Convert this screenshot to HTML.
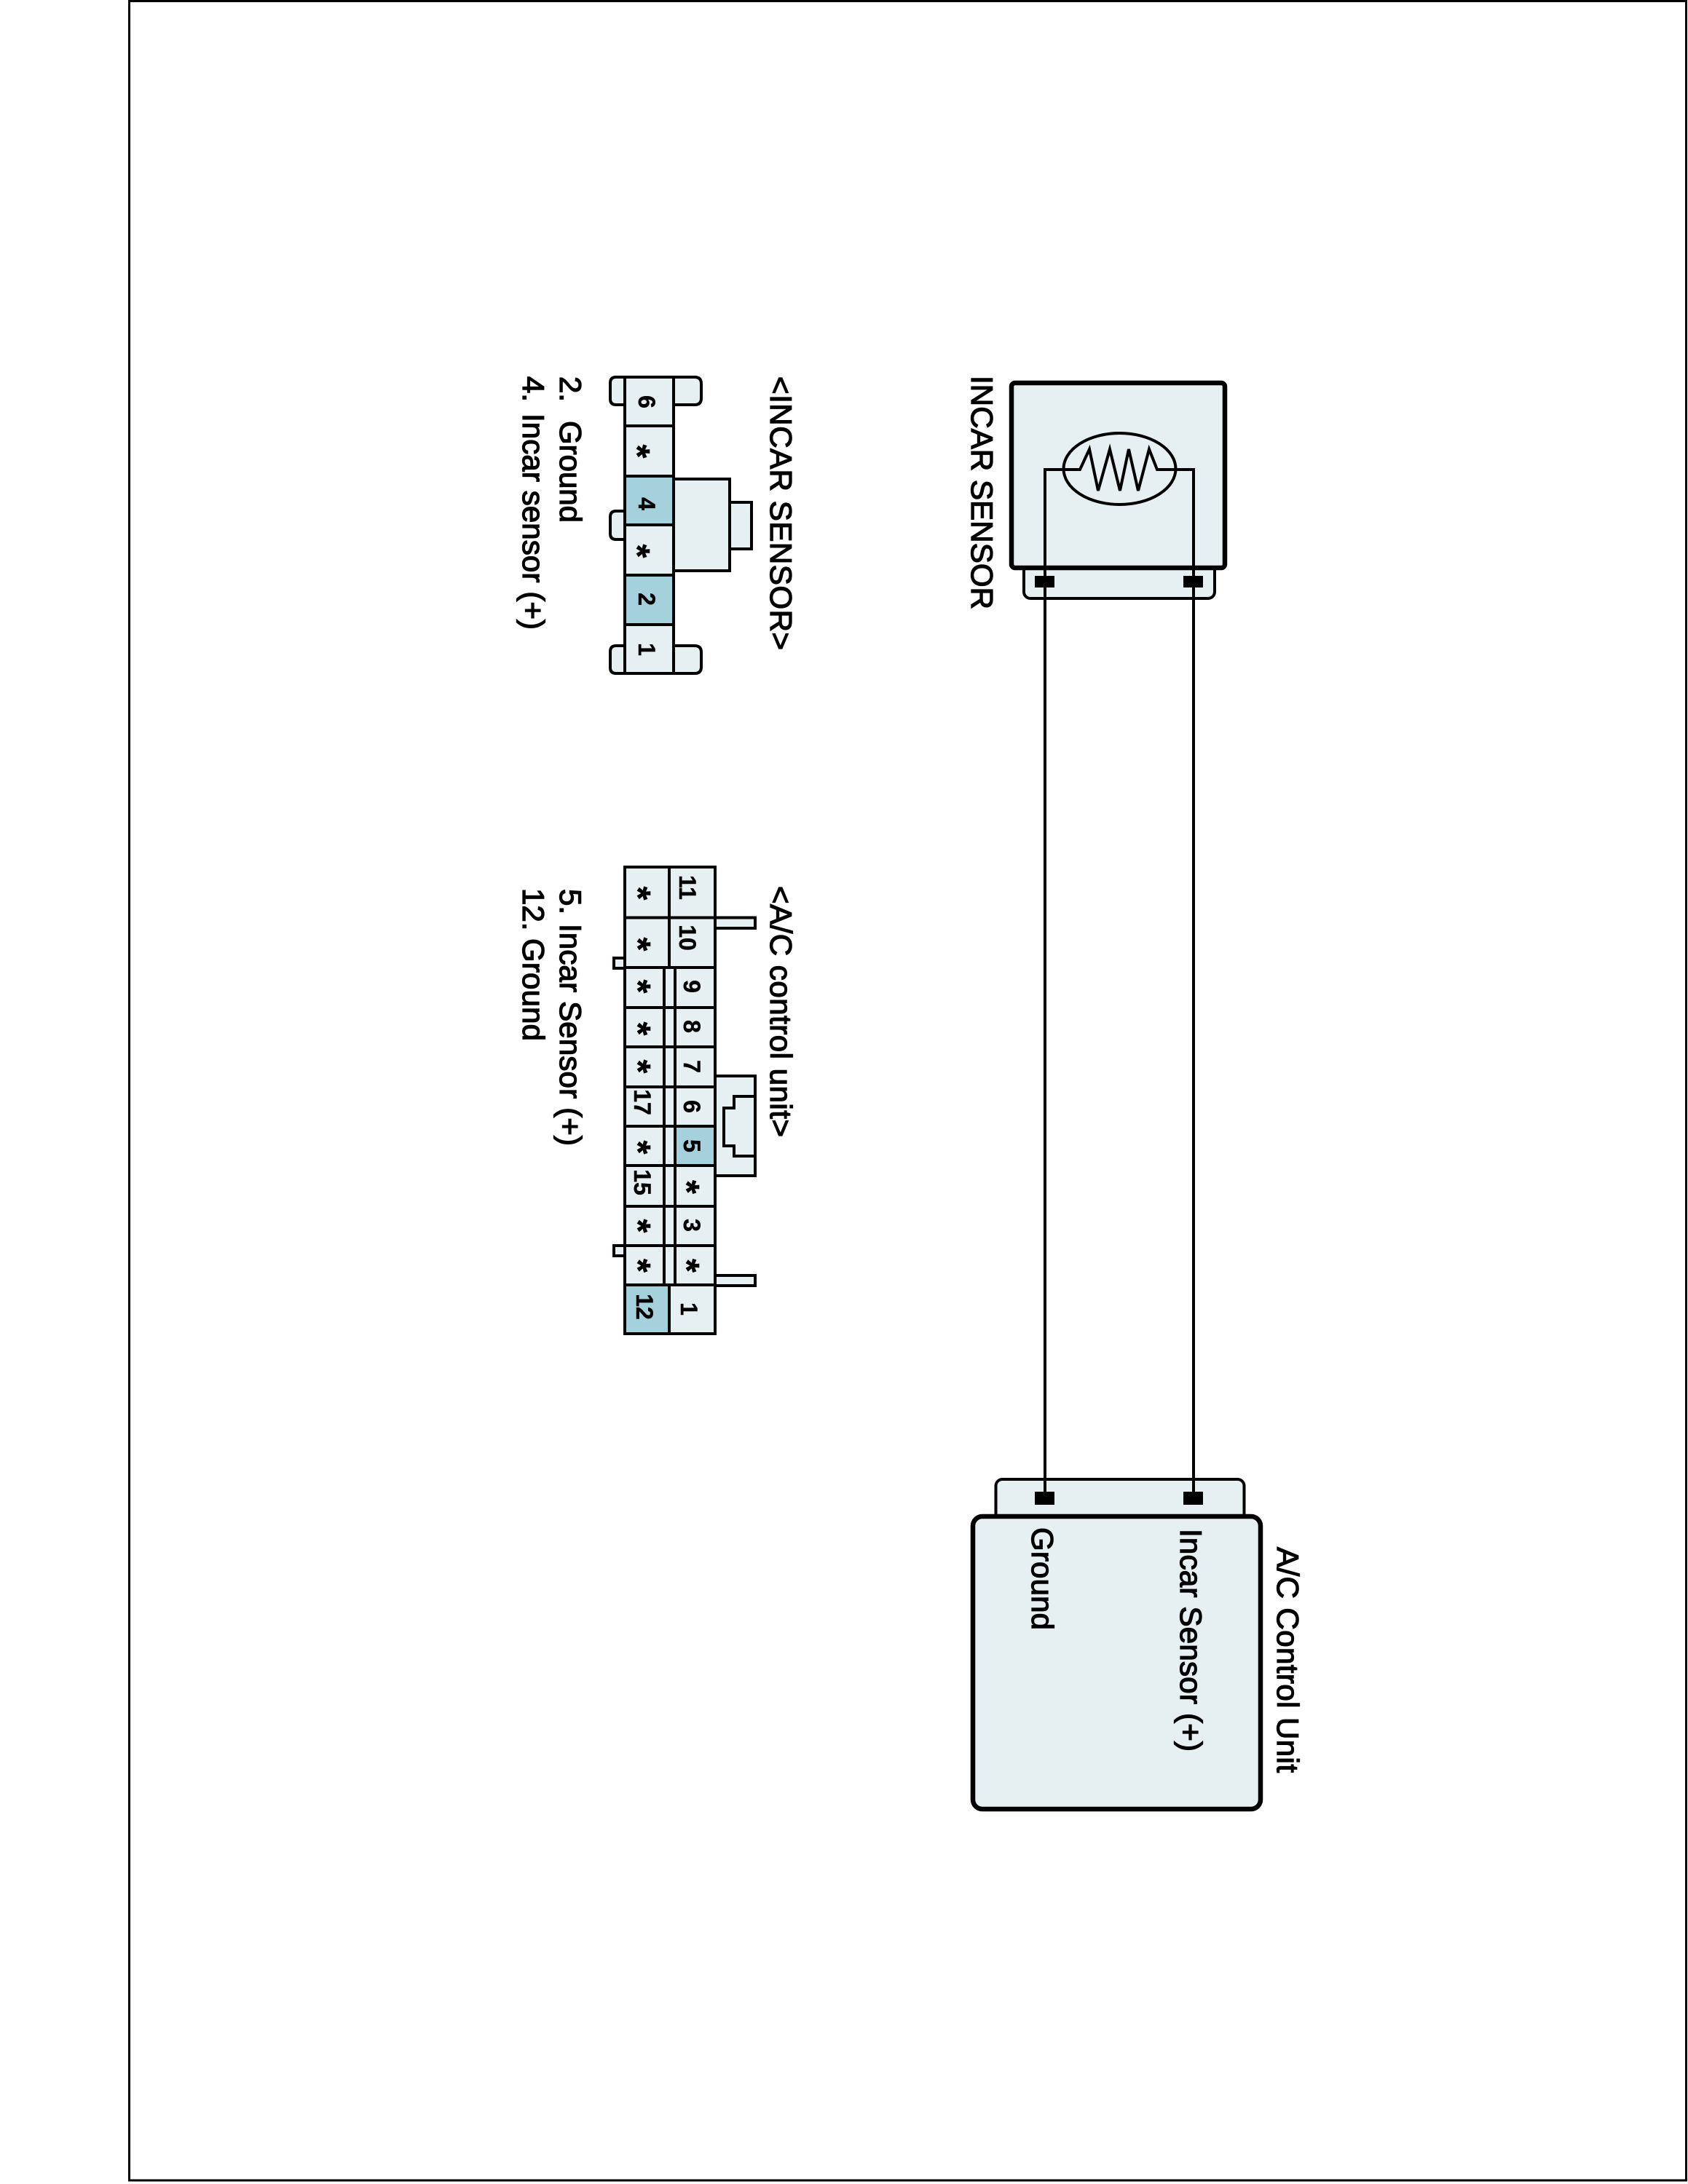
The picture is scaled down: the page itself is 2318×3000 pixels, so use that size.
<!DOCTYPE html>
<html>
<head>
<meta charset="utf-8">
<style>
html,body{margin:0;padding:0;background:#fff;}
svg{display:block;}
text{font-family:"Liberation Sans",sans-serif;fill:#000;}
.l{font-size:42px;stroke:#000;stroke-width:1.3px;}
.d{font-size:32px;font-weight:bold;text-anchor:middle;stroke:#000;stroke-width:.5px;}
.a{font-size:48px;font-weight:bold;text-anchor:middle;stroke:#000;stroke-width:.6px;}
</style>
</head>
<body>
<svg xmlns="http://www.w3.org/2000/svg" width="2318" height="3000" viewBox="0 0 2318 3000">
<rect width="2318" height="3000" fill="#fff"/>
<rect x="177.500" y="1.500" width="2138" height="2993.500" fill="none" stroke="#000" stroke-width="3"/>

<!-- INCAR sensor block -->
<g stroke="#000" fill="#e6eff1">
<rect x="1406" y="760" width="262" height="62" rx="9" stroke-width="4"/>
<rect x="1389" y="526" width="293" height="254" rx="5" stroke-width="6.500"/>
<ellipse cx="1537.500" cy="644" rx="77" ry="49" stroke-width="4"/>
<path d="M1435 780V645H1483L1496 617L1508 674L1524 617L1538 674L1550 617L1563 674L1578 617L1589 645H1639V780" fill="none" stroke-width="4"/>
</g>
<!-- AC control block -->
<g stroke="#000" fill="#e6eff1">
<rect x="1367.500" y="2032" width="341" height="70" rx="9" stroke-width="4"/>
<rect x="1336" y="2083" width="395" height="402" rx="13" stroke-width="6.500"/>
</g>
<!-- wires -->
<g stroke="#000" stroke-width="4">
<line x1="1435" y1="780" x2="1435" y2="2060"/>
<line x1="1639" y1="780" x2="1639" y2="2060"/>
</g>
<g fill="#000">
<rect x="1421" y="791" width="27" height="16"/>
<rect x="1625" y="791" width="27" height="16"/>
<rect x="1421" y="2049" width="27" height="18"/>
<rect x="1625" y="2049" width="27" height="18"/>
</g>

<!-- main labels -->
<text class="l" transform="translate(1334,516) rotate(90)" textLength="321">INCAR SENSOR</text>
<text class="l" transform="translate(1417,2098) rotate(90)" textLength="141">Ground</text>
<text class="l" transform="translate(1621,2100) rotate(90)" textLength="306">Incar Sensor (+)</text>
<text class="l" transform="translate(1754,2125) rotate(90)" textLength="310">A/C Control Unit</text>

<!-- connector 1 -->
<g stroke="#000" stroke-width="4" fill="#e6eff1">
<path d="M858 518H846Q838 518 838 526V548Q838 556 846 556H858Z"/>
<path d="M925 518H954Q963 518 963 527V547Q963 556 954 556H925Z"/>
<path d="M858 887H846Q838 887 838 895V917Q838 925 846 925H858Z"/>
<path d="M925 887H954Q963 887 963 896V916Q963 925 954 925H925Z"/>
<path d="M858 702H846Q838 702 838 710V733Q838 741 846 741H858Z"/>
<rect x="1002" y="690" width="30" height="64"/>
<rect x="925" y="658" width="77" height="126"/>
<rect x="858" y="518" width="67" height="67"/>
<rect x="858" y="585" width="67" height="69"/>
<rect x="858" y="654" width="67" height="67" fill="#a5d1dd"/>
<rect x="858" y="721" width="67" height="69"/>
<rect x="858" y="790" width="67" height="68" fill="#a5d1dd"/>
<rect x="858" y="858" width="67" height="67"/>
</g>
<text class="d" transform="translate(877,552) rotate(90)">6</text>
<text class="a" transform="translate(859,620) rotate(90)">*</text>
<text class="d" transform="translate(877,692) rotate(90)">4</text>
<text class="a" transform="translate(859,757) rotate(90)">*</text>
<text class="d" transform="translate(877,823) rotate(90)">2</text>
<text class="d" transform="translate(877,892) rotate(90)">1</text>

<text class="l" transform="translate(1058,517) rotate(90)" textLength="376">&lt;INCAR SENSOR&gt;</text>
<text class="l" transform="translate(769,517) rotate(90)">2.</text>
<text class="l" transform="translate(769,578) rotate(90)" textLength="140">Ground</text>
<text class="l" transform="translate(718,517) rotate(90)">4.</text>
<text class="l" transform="translate(718,568) rotate(90)" textLength="297">Incar sensor (+)</text>

<!-- connector 2 -->
<g stroke="#000" stroke-width="4" fill="#e6eff1">
<rect x="982" y="1260.500" width="55" height="14.500"/>
<rect x="982" y="1752" width="55" height="14"/>
<rect x="843" y="1316" width="15" height="14"/>
<rect x="843" y="1711" width="15" height="14"/>
<rect x="982" y="1478" width="55" height="137"/>
<path d="M1036 1506H1008V1522H994V1574H1008V1588H1036" fill="none"/>
<rect x="858" y="1191" width="124" height="641"/>
</g>
<rect x="858" y="1765" width="61" height="67" fill="#a5d1dd"/>
<rect x="927" y="1547" width="55" height="54" fill="#a5d1dd"/>
<g stroke="#000" stroke-width="4" fill="none">
<rect x="858" y="1191" width="124" height="641"/>
<path d="M919 1191V1329M919 1765V1832"/>
<path d="M912 1329V1765M927 1329V1765"/>
<path d="M858 1260.500H982M858 1329H982M858 1384H982M858 1438H982M858 1493H982M858 1547H982M858 1601H982M858 1657H982M858 1711H982M858 1765H982"/>
</g>
<text class="d" transform="translate(933,1219) rotate(90)">11</text>
<text class="d" transform="translate(933,1288) rotate(90)">10</text>
<text class="d" transform="translate(939,1355) rotate(90)">9</text>
<text class="d" transform="translate(939,1410) rotate(90)">8</text>
<text class="d" transform="translate(939,1465) rotate(90)">7</text>
<text class="d" transform="translate(939,1520) rotate(90)">6</text>
<text class="d" transform="translate(939,1574) rotate(90)">5</text>
<text class="a" transform="translate(927,1630.500) rotate(90)">*</text>
<text class="d" transform="translate(939,1683) rotate(90)">3</text>
<text class="a" transform="translate(927,1738.500) rotate(90)">*</text>
<text class="d" transform="translate(935,1798) rotate(90)">1</text>

<text class="a" transform="translate(860,1227) rotate(90)">*</text>
<text class="a" transform="translate(860,1297) rotate(90)">*</text>
<text class="a" transform="translate(860,1355) rotate(90)">*</text>
<text class="a" transform="translate(860,1413) rotate(90)">*</text>
<text class="a" transform="translate(860,1465) rotate(90)">*</text>
<text class="d" transform="translate(871,1514) rotate(90)">17</text>
<text class="a" transform="translate(860,1576) rotate(90)">*</text>
<text class="d" transform="translate(871,1624) rotate(90)">15</text>
<text class="a" transform="translate(860,1684) rotate(90)">*</text>
<text class="a" transform="translate(860,1738.500) rotate(90)">*</text>
<text class="d" transform="translate(874,1795) rotate(90)">12</text>

<text class="l" transform="translate(1058,1217) rotate(90)" textLength="345">&lt;A/C control unit&gt;</text>
<text class="l" transform="translate(769,1221) rotate(90)">5.</text>
<text class="l" transform="translate(769,1269) rotate(90)" textLength="305">Incar Sensor (+)</text>
<text class="l" transform="translate(718,1220) rotate(90)">12.</text>
<text class="l" transform="translate(718,1289) rotate(90)" textLength="141">Ground</text>
</svg>
</body>
</html>
